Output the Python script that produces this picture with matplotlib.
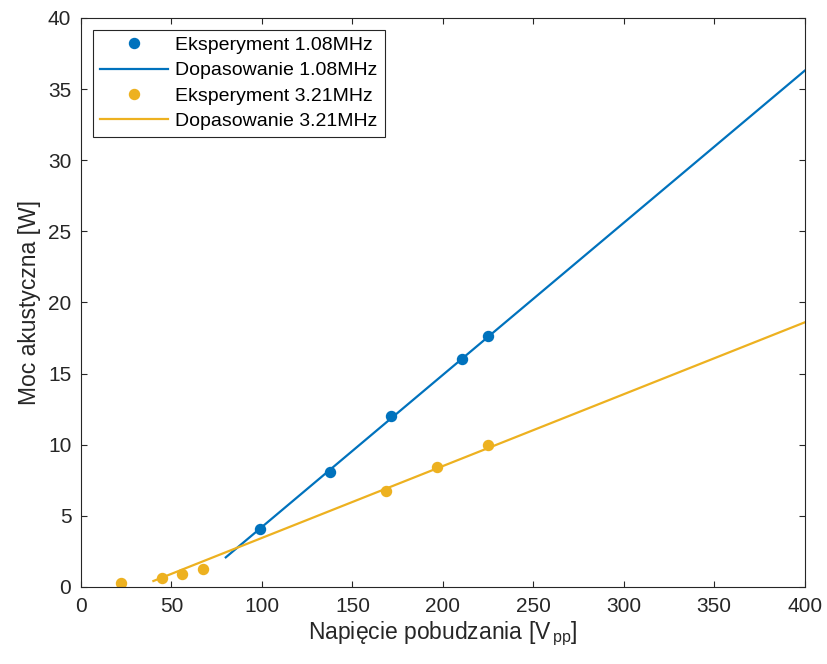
import numpy as np
import matplotlib
matplotlib.use("Agg")
import matplotlib.pyplot as plt

plt.rcParams['font.family'] = ['Liberation Sans', 'DejaVu Sans']
plt.rcParams['mathtext.default'] = 'regular'

# pomiary 1.08 MHz
u_1 = [99, 137.5, 171.5, 210.5, 225]
p_1 = [4.05, 8.05, 12.0, 16.05, 17.65]
# pomiary 3.21 MHz
u_3 = [22, 44.8, 56, 67.2, 168.3, 196.5, 225]
p_3 = [0.25, 0.6, 0.9, 1.25, 6.75, 8.4, 9.95]

# parametry dopasowania liniowego: a*U + b
fit_1 = (0.1069, -6.47)
fit_3 = (0.0505, -1.6)
range_1 = (80, 400)
range_3 = (40, 400)

c_blue = '#0072BD'
c_yel = '#EDB120'
c_ax = '#262626'

fig = plt.figure(figsize=(8.27, 6.64), dpi=100)
ax = fig.add_axes([0.098, 0.116, 0.875, 0.857])

u = np.linspace(*range_1, 50)
ax.plot(u_1, p_1, 'o', color=c_blue, ms=7.2, label='Eksperyment 1.08MHz')
ax.plot(u, fit_1[0] * u + fit_1[1], '-', color=c_blue, lw=1.6, label='Dopasowanie 1.08MHz')
u = np.linspace(*range_3, 50)
ax.plot(u_3, p_3, 'o', color=c_yel, ms=7.2, label='Eksperyment 3.21MHz')
ax.plot(u, fit_3[0] * u + fit_3[1], '-', color=c_yel, lw=1.6, label='Dopasowanie 3.21MHz')

ax.set_xlim(0, 400)
ax.set_ylim(0, 40)
ax.set_xticks(range(0, 401, 50))
ax.set_yticks(range(0, 41, 5))
ax.tick_params(direction='in', top=True, right=True, labelsize=15,
               colors=c_ax, length=4.5, pad=7)
for s in ax.spines.values():
    s.set_color(c_ax)
    s.set_linewidth(0.8)

ax.set_xlabel('Napięcie pobudzania [V$_{\\,pp}$]', fontsize=16.5, color=c_ax, labelpad=3)
ax.set_ylabel('Moc akustyczna [W]', fontsize=16.5, color=c_ax, labelpad=5)

leg = ax.legend(loc='upper left', fontsize=14, fancybox=False, framealpha=1,
                edgecolor=c_ax, handlelength=3.5, handletextpad=0.4,
                borderaxespad=0.6, labelspacing=0.4, borderpad=0.35)
leg.get_frame().set_linewidth(0.8)

fig.savefig('out.png', dpi=100)
